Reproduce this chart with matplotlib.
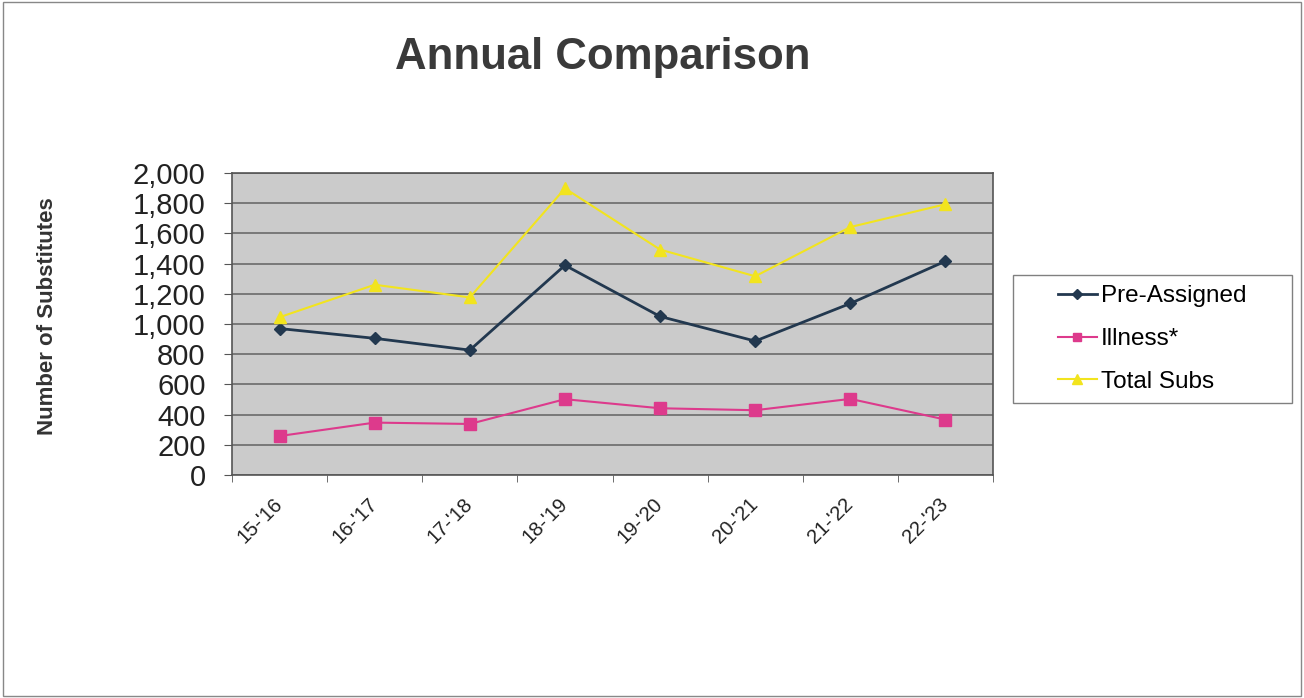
import numpy as np
import matplotlib.pyplot as plt
from matplotlib.ticker import FuncFormatter, FixedLocator

plt.rcParams['font.family'] = ['Liberation Sans', 'DejaVu Sans']

years = ["15-'16", "16-'17", "17-'18", "18-'19", "19-'20", "20-'21", "21-'22", "22-'23"]
pre_assigned = [970, 905, 827, 1389, 1050, 887, 1136, 1416]
illness = [258, 347, 338, 502, 442, 429, 504, 367]
total_subs = [1045, 1260, 1176, 1898, 1493, 1316, 1642, 1793]

W, H = 1304, 698
fig = plt.figure(figsize=(W / 100, H / 100), dpi=100)
ax = fig.add_axes([232/W, 1 - 475/H, (993-232)/W, (475-173)/H])

x = np.arange(len(years))
ax.plot(x, pre_assigned, color='#22384f', marker='D', markersize=6, lw=2, label='Pre-Assigned')
ax.plot(x, illness, color='#dd3a8c', marker='s', markersize=8, lw=1.5, label='Illness*')
ax.plot(x, total_subs, color='#f2e41e', marker='^', markersize=9, lw=1.5, label='Total Subs')

ax.set_facecolor('#cbcbcb')
ax.set_xlim(-0.5, len(years) - 0.5)
ax.set_ylim(0, 2000)
ax.set_yticks(np.arange(0, 2001, 200))
ax.yaxis.set_major_formatter(FuncFormatter(lambda v, p: f'{int(v):,}'))
ax.grid(axis='y', color='#626262', lw=1.1)
ax.set_axisbelow(True)

ax.set_xticks(x)
ax.set_xticklabels(years, rotation=45, fontsize=14.5, ha='right', va='center',
                   rotation_mode='anchor', color='#222222')
ax.xaxis.set_minor_locator(FixedLocator(np.arange(-0.5, len(years), 1)))
ax.tick_params(axis='x', which='major', length=0, pad=19)
ax.tick_params(axis='x', which='minor', length=5, color='#555555')
ax.tick_params(axis='y', labelsize=21, labelcolor='#222222', length=6, color='#555555', pad=13)

for s in ax.spines.values():
    s.set_color('#555555')
    s.set_linewidth(1.2)

fig.text(48/W, 1 - 316/H, 'Number of Substitutes', rotation=90, fontsize=16,
         fontweight='bold', color='#333333', ha='center', va='center')
fig.text(603/W, 1 - 69/H, 'Annual Comparison', fontsize=31.5, fontweight='bold',
         color='#3a3a3a', ha='center', va='baseline')

# legend box drawn separately (Excel-style wide frame)
fig.patches.append(plt.Rectangle((1013/W, 1 - 403/H), (1292-1013)/W, (403-275)/H,
                                 transform=fig.transFigure, fill=False,
                                 edgecolor='#808080', lw=1))
ax.legend(loc='center left', bbox_to_anchor=(1058/W, 1 - 339/H),
          bbox_transform=fig.transFigure, fontsize=17.5, frameon=False,
          handlelength=1.6, handletextpad=0.15, labelspacing=0.85,
          borderpad=0, borderaxespad=0, markerscale=0.8)

fig.patches.append(plt.Rectangle((0.002, 0.003), 0.996, 0.994, transform=fig.transFigure,
                                 fill=False, edgecolor='#888888', lw=1))

fig.savefig('out.png', dpi=100)
